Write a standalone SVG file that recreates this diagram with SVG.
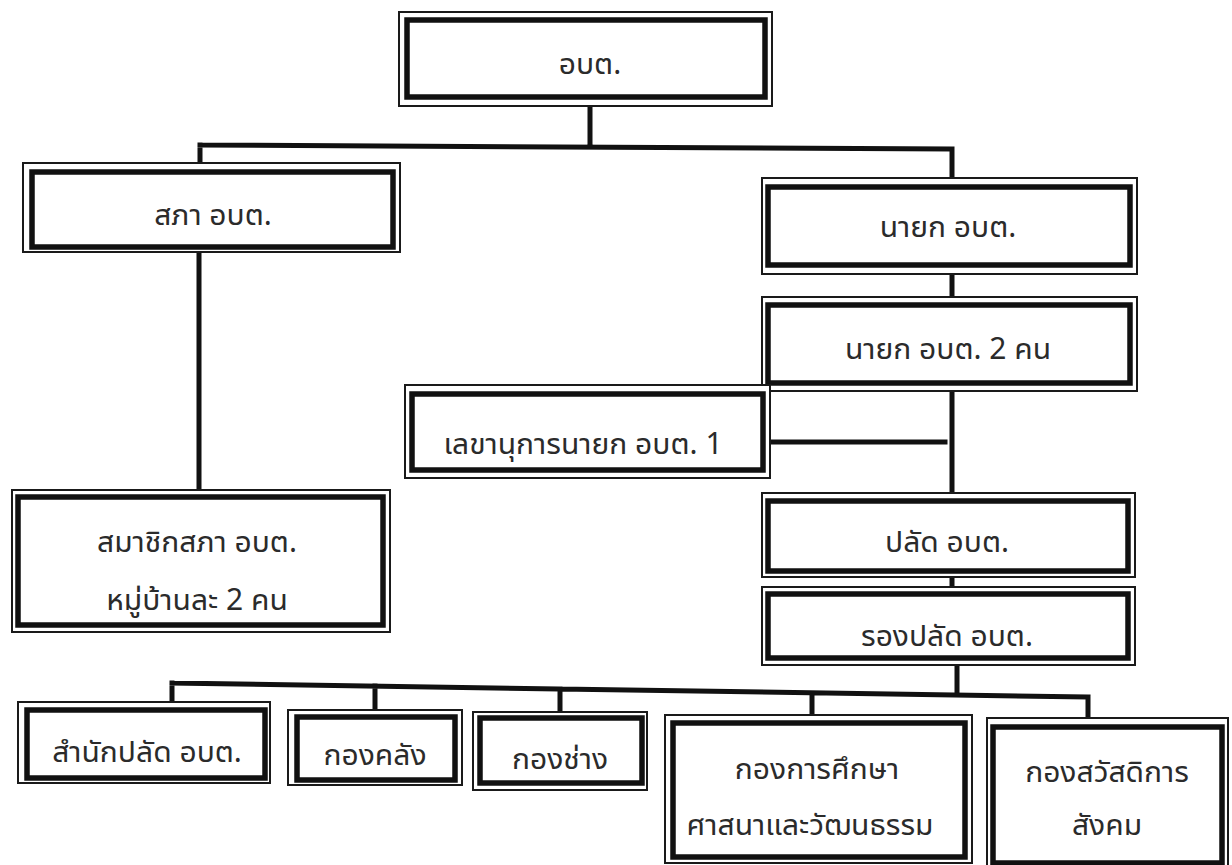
<svg xmlns="http://www.w3.org/2000/svg" width="1232" height="865" viewBox="0 0 1232 865">
<style>
.o{fill:#fff;stroke:#1a1a1a;stroke-width:2}
.i{fill:none;stroke:#111;stroke-width:5.5}
.c{fill:none;stroke:#111;stroke-width:5;stroke-linecap:square}
text{font-family:"Noto Sans Thai UI","Noto Sans Thai","Sarabun","Loma","Noto Sans","DejaVu Sans",sans-serif;font-size:30px;fill:#2b2b2b;text-anchor:middle;dominant-baseline:central}
</style>
<rect width="1232" height="865" fill="#fff"/>
<g id="connectors">
<path class="c" d="M590 106V145M200 145L952 149M200 145V163M952 149V178"/>
<path class="c" d="M199 252V490"/>
<path class="c" d="M952 274V297M952 391V493M770 442H945M952 577V587M957 665V693"/>
<path class="c" d="M172 683L1088 697M172 683V702M375 686V710M560 689V712M812 693V715M1088 697V718"/>
</g>
<g id="n-abt"><rect class="o" x="399" y="12" width="373" height="94"/><rect class="i" x="407" y="20" width="358" height="77"/><text x="590" y="62">อบต.</text></g>
<g id="n-sapha"><rect class="o" x="23" y="163" width="377" height="89"/><rect class="i" x="32" y="172" width="361" height="75"/><text x="213" y="213">สภา อบต.</text></g>
<g id="n-member"><rect class="o" x="12" y="490" width="378" height="142"/><rect class="i" x="18" y="497" width="365" height="128"/><text x="197" y="540">สมาชิกสภา อบต.</text><text x="197" y="598">หมู่บ้านละ 2 คน</text></g>
<g id="n-nayok"><rect class="o" x="762" y="178" width="375" height="96"/><rect class="i" x="768" y="187" width="362" height="78"/><text x="948" y="225">นายก อบต.</text></g>
<g id="n-nayok2"><rect class="o" x="762" y="297" width="375" height="94"/><rect class="i" x="768" y="305" width="362" height="78"/><text x="948" y="347">นายก อบต. 2 คน</text></g>
<g id="n-secretary"><rect class="o" x="405" y="385" width="365" height="93"/><rect class="i" x="412" y="394" width="351" height="76"/><text x="583" y="442">เลขานุการนายก อบต. 1</text></g>
<g id="n-palad"><rect class="o" x="762" y="493" width="373" height="84"/><rect class="i" x="768" y="501" width="360" height="70"/><text x="947" y="540">ปลัด อบต.</text></g>
<g id="n-rongpalad"><rect class="o" x="762" y="587" width="373" height="78"/><rect class="i" x="768" y="594" width="360" height="64"/><text x="947" y="634">รองปลัด อบต.</text></g>
<g id="n-office"><rect class="o" x="18" y="702" width="252" height="81"/><rect class="i" x="27" y="710" width="238" height="68"/><text x="147" y="750">สำนักปลัด อบต.</text></g>
<g id="n-finance"><rect class="o" x="288" y="710" width="174" height="75"/><rect class="i" x="297" y="717" width="158" height="63"/><text x="375" y="753">กองคลัง</text></g>
<g id="n-works"><rect class="o" x="473" y="712" width="174" height="78"/><rect class="i" x="480" y="718" width="162" height="65"/><text x="560" y="757">กองช่าง</text></g>
<g id="n-education"><rect class="o" x="665" y="715" width="307" height="148"/><rect class="i" x="673" y="723" width="292" height="134"/><text x="817" y="767">กองการศึกษา</text><text x="810" y="823">ศาสนาและวัฒนธรรม</text></g>
<g id="n-welfare"><rect class="o" x="987" y="718" width="241" height="150"/><rect class="i" x="993" y="727" width="229" height="136"/><text x="1107" y="770">กองสวัสดิการ</text><text x="1107" y="823">สังคม</text></g>
</svg>
